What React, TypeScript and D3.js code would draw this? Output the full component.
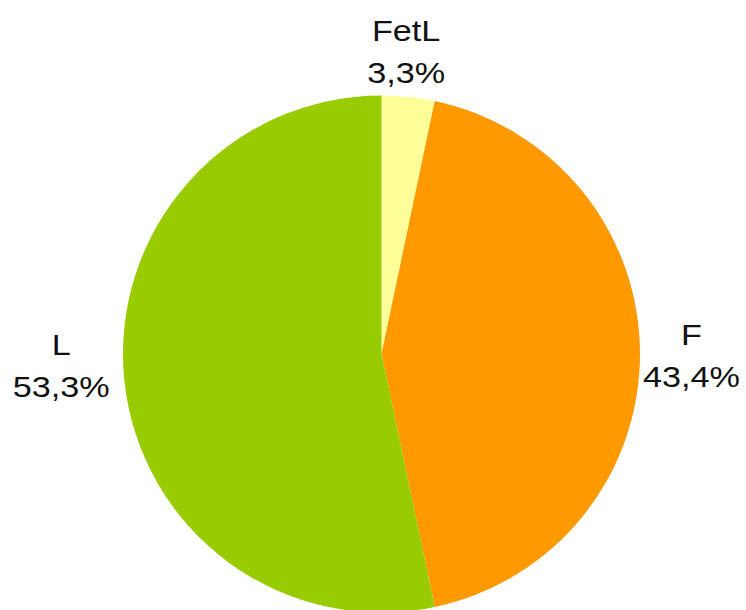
import React from "react";
import * as d3 from "d3";

const categories = ["FetL", "F", "L"];
const values = [3.3, 43.4, 53.3];
const labels = ["3,3%", "43,4%", "53,3%"];
const colors = ["#FFFF99", "#FF9900", "#99CC00"];

export default function App() {
  const W = 746, H = 610;
  const cx = 381.5, cy = 354, r = 258.5;
  const pie = d3.pie<number>().sort(null).value((d) => d);
  const arcs = pie(values);
  const arc = d3.arc<d3.PieArcDatum<number>>().innerRadius(0).outerRadius(r);
  const labelR = [296, 310, 321];
  const nudge = [[-6, 2], [0, 12], [-1, -11.5]];
  return (
    <svg width={W} height={H} style={{ position: "absolute", left: 0, top: 0 }}>
      <rect width={W} height={H} fill="#fff" />
      <g transform={`translate(${cx},${cy})`}>
        {arcs.map((a, i) => (
          <path key={i} d={arc(a) || ""} fill={colors[i]} />
        ))}
        {arcs.map((a, i) => {
          const la = d3.arc<d3.PieArcDatum<number>>().innerRadius(labelR[i]).outerRadius(labelR[i]);
          const [x, y] = la.centroid(a);
          return (
            <g key={"l" + i} transform={`translate(${x + nudge[i][0]},${y + nudge[i][1]}) scale(1.18,1)`}>
              <text
                textAnchor="middle"
                fontFamily="Liberation Sans, Arial, sans-serif"
                fontSize={29}
                fill="#111"
                y={-21}
              >
                {categories[i]}
              </text>
              <text
                textAnchor="middle"
                fontFamily="Liberation Sans, Arial, sans-serif"
                fontSize={29}
                fill="#111"
                y={21}
              >
                {labels[i]}
              </text>
            </g>
          );
        })}
      </g>
    </svg>
  );
}
